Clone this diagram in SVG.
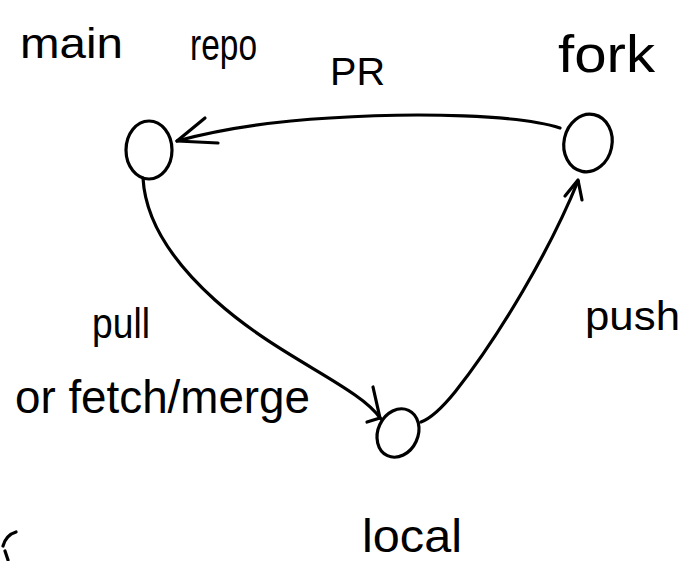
<svg xmlns="http://www.w3.org/2000/svg" width="684" height="561" viewBox="0 0 684 561">
<style>
.ink{fill:none;stroke:#000;stroke-width:3.2;stroke-linecap:round;stroke-linejoin:round}
.t{font-family:"Liberation Sans",Arial,sans-serif;fill:#000}
</style>
<rect width="684" height="561" fill="#fff"/>
<g id="node-main-repo">
<ellipse class="ink" cx="149" cy="150" rx="23" ry="29"/>
<text class="t" x="20" y="58" font-size="42" textLength="103" lengthAdjust="spacingAndGlyphs">main</text>
<text class="t" x="190" y="60" font-size="44" textLength="67" lengthAdjust="spacingAndGlyphs">repo</text>
</g>
<g id="node-fork">
<ellipse class="ink" cx="588" cy="143" rx="24" ry="29" transform="rotate(12 588 143)"/>
<text class="t" x="558" y="72" font-size="52" textLength="97" lengthAdjust="spacingAndGlyphs">fork</text>
</g>
<g id="node-local">
<ellipse class="ink" cx="398" cy="433" rx="20" ry="25" transform="rotate(25 398 433)"/>
<text class="t" x="362" y="552" font-size="46" textLength="100" lengthAdjust="spacingAndGlyphs">local</text>
</g>
<g id="connectors">
<path class="ink" d="M560,128 C520,115 420,112 330,118 C260,122 210,132 177,141"/>
<path class="ink" d="M205,118 L177,141 L218,143"/>
<text class="t" x="330" y="85" font-size="38" textLength="55" lengthAdjust="spacingAndGlyphs">PR</text>
<path class="ink" d="M143,178 C145,215 165,255 215,300 C265,345 320,370 355,395 C368,404 376,412 381,419"/>
<path class="ink" d="M373,387 L380,418 L367,422"/>
<text class="t" x="92" y="338" font-size="42" textLength="58" lengthAdjust="spacingAndGlyphs">pull</text>
<text class="t" x="15" y="413" font-size="46" textLength="295" lengthAdjust="spacingAndGlyphs">or fetch/merge</text>
<path class="ink" d="M421,422 C432,418 442,408 455,392 C500,335 550,250 578,181"/>
<path class="ink" d="M565,196 L578,180 L582,200"/>
<text class="t" x="585" y="330" font-size="40" textLength="95" lengthAdjust="spacingAndGlyphs">push</text>
</g>
<path class="ink" d="M16,532 Q6,535 3,546 M5,551 L8,560"/>
</svg>
